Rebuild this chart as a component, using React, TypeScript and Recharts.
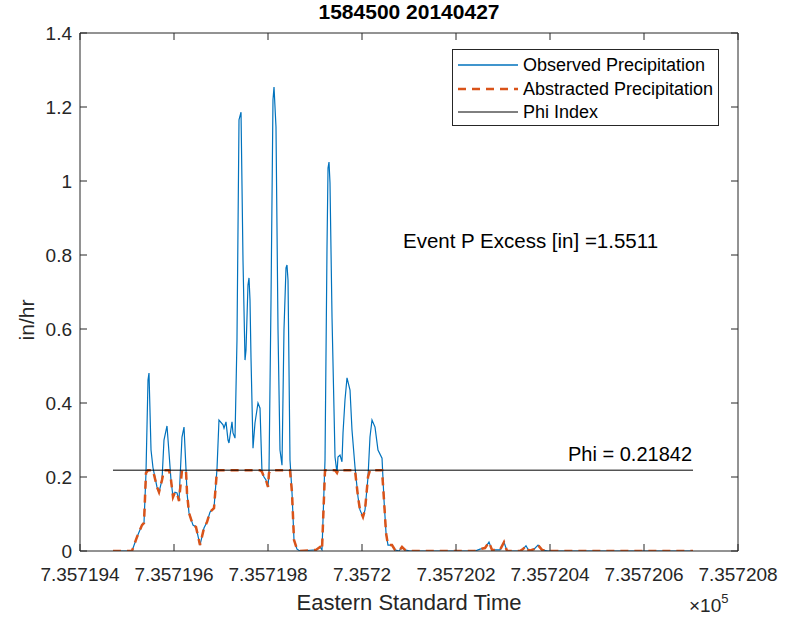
import React from 'react';
import { LineChart, Line, XAxis, YAxis, Legend, ReferenceDot } from 'recharts';

// ---- data (MATLAB datenum days, in/hr) ----
const obsTime = [
  735719.4702, 735719.5106, 735719.5213, 735719.5319, 735719.5362, 735719.5404, 735719.5447, 735719.5468,
  735719.5511, 735719.5553, 735719.5638, 735719.5681, 735719.5745, 735719.5787, 735719.5851, 735719.5894,
  735719.5936, 735719.5979, 735719.6021, 735719.6064, 735719.6106, 735719.6170, 735719.6213, 735719.6255,
  735719.6277, 735719.6319, 735719.6404, 735719.6468, 735719.6553, 735719.6638, 735719.6702, 735719.6766,
  735719.6851, 735719.6915, 735719.6957, 735719.7043, 735719.7064, 735719.7106, 735719.7149, 735719.7170,
  735719.7234, 735719.7255, 735719.7298, 735719.7340, 735719.7383, 735719.7426, 735719.7468, 735719.7511,
  735719.7532, 735719.7574, 735719.7596, 735719.7617, 735719.7638, 735719.7681, 735719.7723, 735719.7787,
  735719.7830, 735719.7872, 735719.7915, 735719.7957, 735719.8000, 735719.8021, 735719.8064, 735719.8106,
  735719.8128, 735719.8170, 735719.8213, 735719.8255, 735719.8298, 735719.8340, 735719.8383, 735719.8404,
  735719.8426, 735719.8468, 735719.8511, 735719.8553, 735719.8617, 735719.8681, 735719.8894, 735719.9021,
  735719.9106, 735719.9149, 735719.9213, 735719.9255, 735719.9277, 735719.9298, 735719.9319, 735719.9362,
  735719.9426, 735719.9468, 735719.9489, 735719.9532, 735719.9574, 735719.9596, 735719.9638, 735719.9681,
  735719.9745, 735719.9787, 735719.9851, 735719.9915, 735719.9957, 735720.0021, 735720.0064, 735720.0128,
  735720.0170, 735720.0213, 735720.0277, 735720.0340, 735720.0426, 735720.0468, 735720.0511, 735720.0553,
  735720.0638, 735720.0702, 735720.0787, 735720.0851, 735720.0915, 735720.1021, 735720.2404, 735720.2511,
  735720.2617, 735720.2702, 735720.2766, 735720.2936, 735720.3021, 735720.3085, 735720.3362, 735720.3426,
  735720.3489, 735720.3553, 735720.3660, 735720.3745, 735720.3830, 735720.3957, 735720.7043,
];

const observedPrecip = [
  0, 0, 0.038, 0.070, 0.076, 0.211, 0.462, 0.481,
  0.273, 0.225, 0.173, 0.159, 0.192, 0.300, 0.338, 0.265,
  0.192, 0.146, 0.159, 0.157, 0.135, 0.308, 0.335, 0.222,
  0.157, 0.103, 0.070, 0.065, 0.016, 0.062, 0.078, 0.105,
  0.116, 0.222, 0.354, 0.341, 0.332, 0.349, 0.300, 0.292,
  0.349, 0.319, 0.305, 0.570, 1.165, 1.186, 0.786, 0.516,
  0.543, 0.719, 0.738, 0.678, 0.524, 0.278, 0.346, 0.400,
  0.386, 0.214, 0.200, 0.192, 0.173, 0.211, 0.678, 1.219,
  1.254, 1.146, 0.597, 0.273, 0.232, 0.597, 0.765, 0.773,
  0.732, 0.246, 0.157, 0.030, 0.005, 0, 0.002, 0.003,
  0.011, 0.003, 0.246, 0.814, 1.035, 1.051, 0.995, 0.632,
  0.254, 0.211, 0.254, 0.259, 0.241, 0.319, 0.408, 0.468,
  0.435, 0.327, 0.227, 0.146, 0.111, 0.092, 0.111, 0.200,
  0.308, 0.354, 0.335, 0.273, 0.251, 0.138, 0.049, 0.016,
  0.016, 0.003, 0, 0.011, 0.003, 0, 0, 0.005,
  0.008, 0.024, 0.003, 0.003, 0.024, 0, 0, 0.005,
  0.014, 0, 0.005, 0.016, 0.003, 0, 0,
];

const abstractedPrecip = [
  0, 0, 0.038, 0.070, 0.076, 0.211, 0.2184, 0.2184,
  0.2184, 0.2184, 0.173, 0.159, 0.192, 0.2184, 0.2184, 0.2184,
  0.192, 0.146, 0.159, 0.157, 0.135, 0.2184, 0.2184, 0.2184,
  0.157, 0.103, 0.070, 0.065, 0.016, 0.062, 0.078, 0.105,
  0.116, 0.2184, 0.2184, 0.2184, 0.2184, 0.2184, 0.2184, 0.2184,
  0.2184, 0.2184, 0.2184, 0.2184, 0.2184, 0.2184, 0.2184, 0.2184,
  0.2184, 0.2184, 0.2184, 0.2184, 0.2184, 0.2184, 0.2184, 0.2184,
  0.2184, 0.214, 0.200, 0.192, 0.173, 0.211, 0.2184, 0.2184,
  0.2184, 0.2184, 0.2184, 0.2184, 0.2184, 0.2184, 0.2184, 0.2184,
  0.2184, 0.2184, 0.157, 0.030, 0.005, 0, 0.002, 0.003,
  0.011, 0.003, 0.2184, 0.2184, 0.2184, 0.2184, 0.2184, 0.2184,
  0.2184, 0.211, 0.2184, 0.2184, 0.2184, 0.2184, 0.2184, 0.2184,
  0.2184, 0.2184, 0.2184, 0.146, 0.111, 0.092, 0.111, 0.200,
  0.2184, 0.2184, 0.2184, 0.2184, 0.2184, 0.138, 0.049, 0.016,
  0.016, 0.003, 0, 0.011, 0.003, 0, 0, 0.005,
  0.008, 0.024, 0.003, 0.003, 0.024, 0, 0, 0.005,
  0.014, 0, 0.005, 0.016, 0.003, 0, 0,
];

const phiTime = [735719.4702, 735720.7043];
const phiValue = [0.21842, 0.21842];

const xTicks = [735719.4, 735719.6, 735719.8, 735720.0, 735720.2, 735720.4, 735720.6, 735720.8];
const xTickLabels = ['7.357194', '7.357196', '7.357198', '7.3572', '7.357202', '7.357204', '7.357206', '7.357208'];
const yTicks = [0, 0.2, 0.4, 0.6, 0.8, 1, 1.2, 1.4];
const yTickLabels = ['0', '0.2', '0.4', '0.6', '0.8', '1', '1.2', '1.4'];

const seriesNames = ['Observed Precipitation', 'Abstracted Precipitation', 'Phi Index'];
const titleText = '1584500 20140427';
const xLabelText = 'Eastern Standard Time';
const yLabelText = 'in/hr';
const eventText = 'Event P Excess [in] =1.5511';
const eventAnchor = { t: 735720.0872, v: 0.838 };
const phiText = 'Phi = 0.21842';

// ---- tables built from the arrays ----
const obsData = obsTime.map((t, i) => ({ t, v: observedPrecip[i] }));
const absData = obsTime.map((t, i) => ({ t, v: abstractedPrecip[i] }));
const phiData = phiTime.map((t, i) => ({ t, v: phiValue[i] }));

const FONT = "'Liberation Sans', Arial, Helvetica, sans-serif";
const AX = '#262626';
const BLUE = '#0072BD';
const ORANGE = '#D95319';

const fmtX = (v: number) => {
  const i = xTicks.findIndex((x) => Math.abs(x - v) < 1e-6);
  return i >= 0 ? xTickLabels[i] : '';
};
const fmtY = (v: number) => {
  const i = yTicks.findIndex((y) => Math.abs(y - v) < 1e-9);
  return i >= 0 ? yTickLabels[i] : '';
};
const noLabel = () => <g />;

const legendColors = [BLUE, ORANGE, '#000'];
const legendDash = [undefined, '8 6', undefined];
const legendWidths = [1.3, 2.5, 1];

const LegendBox = () => (
  <div
    style={{
      width: 267,
      height: 77,
      boxSizing: 'border-box',
      border: `1px solid ${AX}`,
      background: '#fff',
      fontFamily: FONT,
      fontSize: 18,
      color: '#000',
      position: 'relative',
    }}
  >
    {seriesNames.map((name, i) => (
      <div key={name} style={{ position: 'absolute', left: 0, top: 4 + i * 23.5, height: 22, width: 265 }}>
        <svg width={62} height={22} style={{ position: 'absolute', left: 4, top: 0 }}>
          <line x1={1} y1={11} x2={61} y2={11} stroke={legendColors[i]} strokeWidth={legendWidths[i]} strokeDasharray={legendDash[i]} />
        </svg>
        <span style={{ position: 'absolute', left: 70, top: 0, lineHeight: '22px', whiteSpace: 'nowrap' }}>{name}</span>
      </div>
    ))}
  </div>
);

export default function App() {
  return (
    <div style={{ position: 'absolute', left: 0, top: 0, width: 790, height: 618, background: '#fff', fontFamily: FONT }}>
      <LineChart width={790} height={618} margin={{ top: 32, right: 51, bottom: 0, left: 0 }}>
        <XAxis
          xAxisId="b"
          dataKey="t"
          type="number"
          domain={[735719.4, 735720.8]}
          ticks={xTicks}
          tickFormatter={fmtX}
          allowDataOverflow
          height={67}
          tickSize={-7}
          tickMargin={24}
          stroke={AX}
          tick={{ fill: AX, fontSize: 19, fontFamily: FONT }}
          interval={0}
        />
        <XAxis
          xAxisId="t"
          orientation="top"
          dataKey="t"
          type="number"
          domain={[735719.4, 735720.8]}
          ticks={xTicks}
          allowDataOverflow
          height={1}
          tickSize={-7}
          tickMargin={0}
          tick={noLabel}
          stroke={AX}
          interval={0}
        />
        <YAxis
          yAxisId="l"
          dataKey="v"
          type="number"
          domain={[0, 1.4]}
          ticks={yTicks}
          tickFormatter={fmtY}
          allowDataOverflow
          width={80}
          tickSize={-7}
          tickMargin={15}
          stroke={AX}
          tick={{ fill: AX, fontSize: 19, fontFamily: FONT }}
          interval={0}
        />
        <YAxis
          yAxisId="r"
          orientation="right"
          dataKey="v"
          type="number"
          domain={[0, 1.4]}
          ticks={yTicks}
          allowDataOverflow
          width={1}
          tickSize={-7}
          tickMargin={0}
          tick={noLabel}
          stroke={AX}
          interval={0}
        />
        <Line
          xAxisId="t"
          yAxisId="r"
          data={phiData}
          dataKey="v"
          type="linear"
          stroke="none"
          dot={false}
          legendType="none"
          isAnimationActive={false}
        />
        <Line
          xAxisId="b"
          yAxisId="l"
          data={obsData}
          dataKey="v"
          name={seriesNames[0]}
          type="linear"
          stroke={BLUE}
          strokeWidth={1.2}
          dot={false}
          isAnimationActive={false}
        />
        <Line
          xAxisId="b"
          yAxisId="l"
          data={absData}
          dataKey="v"
          name={seriesNames[1]}
          type="linear"
          stroke={ORANGE}
          strokeWidth={2.5}
          strokeDasharray="8 6"
          dot={false}
          isAnimationActive={false}
        />
        <Line
          xAxisId="b"
          yAxisId="l"
          data={phiData}
          dataKey="v"
          name={seriesNames[2]}
          type="linear"
          stroke="#000"
          strokeWidth={1}
          dot={false}
          isAnimationActive={false}
        />
        <ReferenceDot
          xAxisId="b"
          yAxisId="l"
          x={eventAnchor.t}
          y={eventAnchor.v}
          r={0}
          shape={(p: any) => (
            <text x={p.cx} y={p.cy} dy={7} textAnchor="start" fontSize={20.5} fontFamily={FONT} fill="#000">
              {eventText}
            </text>
          )}
        />
        <ReferenceDot
          xAxisId="b"
          yAxisId="l"
          x={phiTime[1]}
          y={phiValue[1]}
          r={0}
          shape={(p: any) => (
            <text x={p.cx - 1} y={p.cy - 9} textAnchor="end" fontSize={20} fontFamily={FONT} fill="#000">
              {phiText}
            </text>
          )}
        />
        <Legend
          layout="horizontal"
          verticalAlign="middle"
          align="center"
          content={() => <LegendBox />}
          wrapperStyle={{ position: 'absolute', left: 452, top: 49, width: 267, height: 77 }}
        />
      </LineChart>

      <div
        style={{
          position: 'absolute',
          left: 0,
          width: 818,
          top: 1,
          textAlign: 'center',
          fontSize: 21,
          lineHeight: '22px',
          fontWeight: 'bold',
          color: '#000',
        }}
      >
        {titleText}
      </div>
      <div
        style={{
          position: 'absolute',
          left: 0,
          width: 818,
          top: 590,
          textAlign: 'center',
          fontSize: 22,
          lineHeight: '25px',
          color: AX,
        }}
      >
        {xLabelText}
      </div>
      <div
        style={{
          position: 'absolute',
          left: 27,
          top: 320,
          transform: 'translate(-50%, -50%) rotate(-90deg)',
          fontSize: 21,
          lineHeight: '24px',
          color: AX,
          whiteSpace: 'nowrap',
        }}
      >
        {yLabelText}
      </div>
      <div style={{ position: 'absolute', left: 689, top: 594, fontSize: 19, lineHeight: '24px', color: AX, whiteSpace: 'nowrap' }}>
        ×10<span style={{ fontSize: 13, position: 'relative', top: -9 }}>5</span>
      </div>
    </div>
  );
}
